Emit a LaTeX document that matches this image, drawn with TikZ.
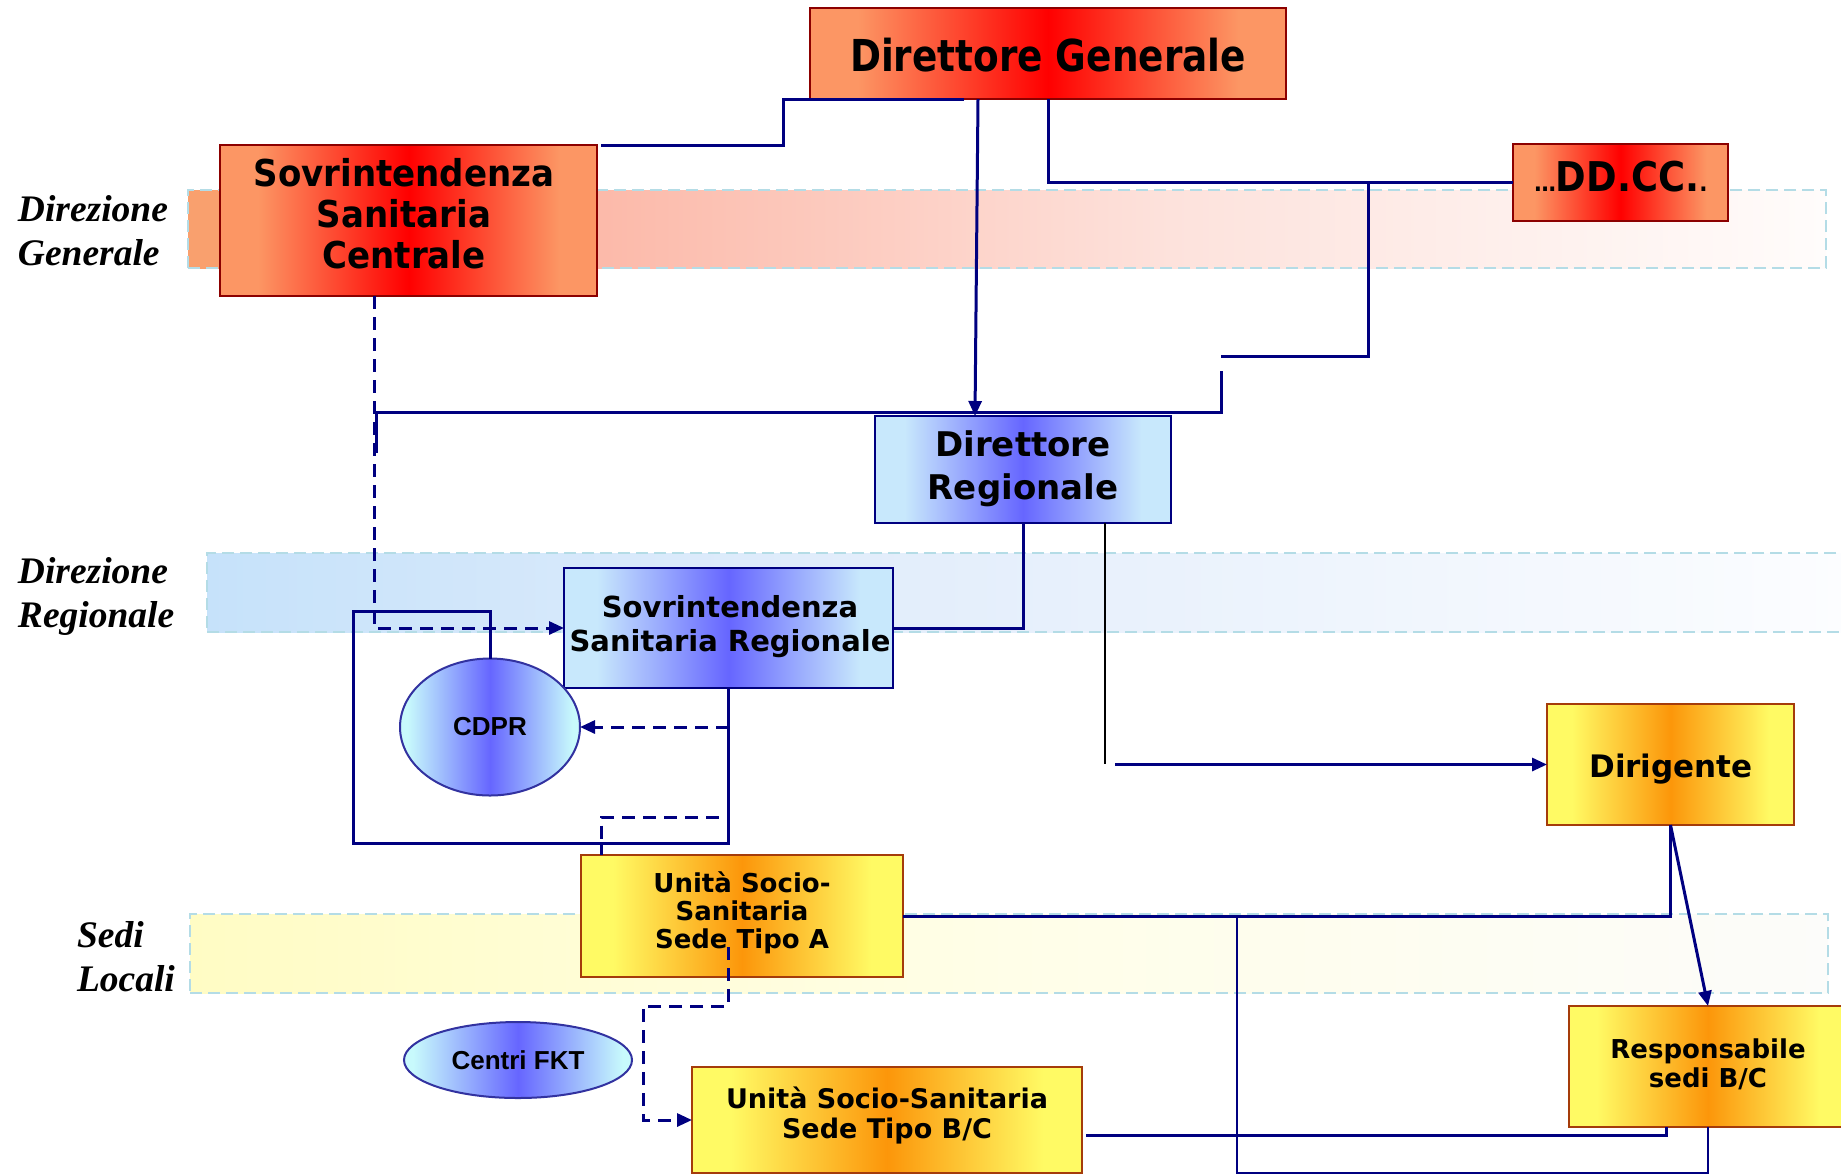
\documentclass[tikz,border=0pt]{standalone}
\usepackage{fontspec}
\usepackage{graphicx}
\usetikzlibrary{fit,calc,arrows.meta,shapes.geometric}

\newfontfamily\dvsans{DejaVu Sans}
\newfontfamily\lsans{Liberation Sans}
\newfontfamily\lserif{Liberation Serif}

% palette
\definecolor{navy}{RGB}{0,0,128}
\definecolor{dgedge}{RGB}{252,150,100}
\definecolor{dgmid}{RGB}{255,0,0}
\definecolor{dgborder}{RGB}{140,0,0}
\definecolor{blueedge}{RGB}{200,232,252}
\definecolor{bluemid}{RGB}{102,102,255}
\definecolor{ovaledge}{RGB}{200,250,252}
\definecolor{ovalborder}{RGB}{50,50,160}
\definecolor{yeledge}{RGB}{255,250,100}
\definecolor{yelmid}{RGB}{252,150,10}
\definecolor{yelborder}{RGB}{165,60,10}
\definecolor{laneborder}{RGB}{180,220,230}
\definecolor{laneAa}{RGB}{249,160,110}
\definecolor{laneAb}{RGB}{252,182,165}
\definecolor{laneAc}{RGB}{253,226,220}
\definecolor{laneAd}{RGB}{255,252,251}
\definecolor{laneBa}{RGB}{198,226,250}
\definecolor{laneBb}{RGB}{226,237,251}
\definecolor{laneBc}{RGB}{252,253,255}
\definecolor{laneCa}{RGB}{255,252,196}
\definecolor{laneCb}{RGB}{255,254,232}
\definecolor{laneCc}{RGB}{252,252,250}

% box fills: light edges, strong centre
\pgfdeclarehorizontalshading{redshade}{100bp}{color(0bp)=(dgedge); color(30bp)=(dgedge); color(50bp)=(dgmid); color(70bp)=(dgedge); color(100bp)=(dgedge)}
\pgfdeclarehorizontalshading{blueshade}{100bp}{color(0bp)=(blueedge); color(30bp)=(blueedge); color(50bp)=(bluemid); color(70bp)=(blueedge); color(100bp)=(blueedge)}
\pgfdeclarehorizontalshading{ovalshade}{100bp}{color(0bp)=(ovaledge); color(27bp)=(ovaledge); color(50bp)=(bluemid); color(73bp)=(ovaledge); color(100bp)=(ovaledge)}
\pgfdeclarehorizontalshading{yelshade}{100bp}{color(0bp)=(yeledge); color(30bp)=(yeledge); color(50bp)=(yelmid); color(70bp)=(yeledge); color(100bp)=(yeledge)}
% lane fills fading to white
\pgfdeclarehorizontalshading{laneA}{100bp}{color(0bp)=(laneAa); color(25bp)=(laneAa); color(26.5bp)=(laneAa); color(36bp)=(laneAb); color(55bp)=(laneAc); color(75bp)=(laneAd); color(100bp)=(laneAd)}
\pgfdeclarehorizontalshading{laneB}{100bp}{color(0bp)=(laneBa); color(25bp)=(laneBa); color(45bp)=(laneBb); color(75bp)=(laneBc); color(100bp)=(laneBc)}
\pgfdeclarehorizontalshading{laneC}{100bp}{color(0bp)=(laneCa); color(25bp)=(laneCa); color(50bp)=(laneCb); color(75bp)=(laneCc); color(100bp)=(laneCc)}

% multi-line text, squeezed horizontally by #1
\newcommand{\mlines}[3]{\scalebox{#1}[1]{\begin{tabular}[t]{@{}#2@{}}#3\end{tabular}}}

\tikzset{
  lane/.style={rectangle, inner sep=0pt, outer sep=0pt, draw=laneborder, line width=0.9pt, dash pattern=on 6pt off 3pt, shade},
  box/.style={rectangle, inner sep=0pt, outer sep=0pt, line width=1.3pt, shade},
  redbox/.style={box, draw=dgborder, shading=redshade},
  bluebox/.style={box, draw=navy, shading=blueshade},
  yelbox/.style={box, draw=yelborder, shading=yelshade},
  oval/.style={ellipse, inner sep=0pt, outer sep=0pt, line width=1pt, draw=ovalborder, shade, shading=ovalshade,
               font=\lsans\bfseries\fontsize{13}{15}\selectfont},
  conn/.style={draw=navy, line width=1.5pt},
  thinconn/.style={draw=navy, line width=1pt},
  dconn/.style={draw=navy, line width=1.5pt, dash pattern=on 6.5pt off 4pt},
  tip/.style={-{Triangle[length=7.5pt,width=6.5pt]}},
  txt/.style={inner sep=0pt, outer sep=0pt, anchor=base},
  lab/.style={inner sep=0pt, outer sep=0pt, anchor=base west, font=\lserif\bfseries\itshape\fontsize{18.75}{22}\selectfont}
}

\begin{document}
\begin{tikzpicture}[x=0.5pt, y=-0.5pt]
\useasboundingbox (0,0) rectangle (1841,1175);
\clip (0,0) rectangle (1841,1175);
\fill[white] (0,0) rectangle (1841,1175);

% level lanes
\node[lane, shading=laneA, fit={(188,190) (1826,268)}] (laneDG) {};
\node[lane, shading=laneB, fit={(207,553) (1846,632)}] (laneDR) {};
\node[lane, shading=laneC, fit={(190,914) (1828,993)}] (laneSL) {};

% lane titles
\node[lab] (labDG) at (18,221) {\begin{tabular}[t]{@{}l@{}}Direzione\\Generale\end{tabular}};
\node[lab] (labDR) at (18,583) {\begin{tabular}[t]{@{}l@{}}Direzione\\Regionale\end{tabular}};
\node[lab] (labSL) at (77,947) {\begin{tabular}[t]{@{}l@{}}Sedi\\Locali\end{tabular}};

% boxes
\node[redbox, fit={(810,8) (1286,99)}] (dg) {};
\node[redbox, fit={(220,145) (597,296)}] (ssc) {};
\node[redbox, fit={(1513,144) (1728,221)}] (ddcc) {};
\node[bluebox, fit={(875,416) (1171,523)}] (dr) {};
\node[bluebox, fit={(564,568) (893,688)}] (ssr) {};
\node[yelbox, fit={(581,855) (903,977)}] (ussa) {};
\node[yelbox, fit={(692,1067) (1082,1173)}] (ussbc) {};
\node[yelbox, fit={(1547,704) (1794,825)}] (dir) {};
\node[yelbox, fit={(1569,1006) (1847,1127)}] (resp) {};
\node[oval, minimum width=90pt, minimum height=68.5pt] (cdpr) at (490,727) {CDPR};
\node[oval, minimum width=114pt, minimum height=38pt] (fkt) at (518,1060) {Centri FKT};

% box texts
\node[txt, font=\dvsans\bfseries\fontsize{22}{26}\selectfont] (dg-t) at (1048,71) {\scalebox{0.85}[1]{Direttore Generale}};
\node[txt, font=\dvsans\bfseries\fontsize{18.5}{20.5}\selectfont] (ssc-t) at (404,186) {\mlines{0.92}{c}{Sovrintendenza\\Sanitaria\\Centrale}};
\node[txt, font=\dvsans\bfseries\fontsize{20.5}{24}\selectfont] (ddcc-t) at (1621,191) {\scalebox{0.9}[1]{{\fontsize{12}{14}\selectfont …}DD.CC.{\fontsize{12}{14}\selectfont .}}};
\node[txt, font=\dvsans\bfseries\fontsize{17}{21.5}\selectfont] (dr-t) at (1023,456) {\mlines{1}{c}{Direttore\\Regionale}};
\node[txt, font=\dvsans\bfseries\fontsize{14.5}{17}\selectfont] (ssr-t) at (730,617) {\mlines{1}{c}{Sovrintendenza\\Sanitaria Regionale}};
\node[txt, font=\dvsans\bfseries\fontsize{13}{13.75}\selectfont] (ussa-t) at (742,892) {\mlines{1}{c}{Unità Socio-\\Sanitaria\\Sede Tipo A}};
\node[txt, font=\dvsans\bfseries\fontsize{13.5}{15}\selectfont] (ussbc-t) at (887,1108) {\mlines{1}{c}{Unità Socio-Sanitaria\\Sede Tipo B/C}};
\node[txt, font=\dvsans\bfseries\fontsize{15.5}{18}\selectfont] (dir-t) at (1671,777) {Dirigente};
\node[txt, font=\dvsans\bfseries\fontsize{13}{14.5}\selectfont] (resp-t) at (1708,1058) {\mlines{1}{c}{Responsabile\\sedi B/C}};

% central direction links
\draw[conn] ($(dg.south)+(-84,0)$) -| (783,145) -- ($(ssc.north east)+(4,0)$);
\draw[conn, tip] ($(dg.south)+(-70,0)$) -- ($(dr.north)+(-48,0)$);
\draw[conn] (dg.south) |- (ddcc.west);
\coordinate (hopA) at (1221,356);
\coordinate (hopB) at (1221,371);
\coordinate (sscdrop) at (376,453);
\draw[conn] ($(dg.south |- ddcc.west)+(320,0)$) -- (1368,356) -- (hopA);
\draw[conn] (hopB) -- (1221,412) -- (376,412) -- (sscdrop);

% regional links
\draw[conn] (dr.south) |- (ssr.east);
\coordinate (drEnd) at (1105,764);
\coordinate (dirIn) at (1115,764.5);
\draw[line width=1pt, black] ($(dr.south)+(82,0)$) -- (drEnd);
\draw[conn, tip] (dirIn) -- (dir.west);
\draw[dconn, tip] ($(ssc.south)+(-34.5,0)$) |- (ssr.west);
\draw[conn] (ssr.south) |- (353,843) |- (490,611) -- (cdpr.north);
\draw[conn] (601,843) -- ($(ussa.north)+(-141,0)$);
\draw[dconn, tip] ($(ssr.south)+(0,39)$) -- (cdpr.east);
\draw[dconn] ($(ssr.south)+(-10,129)$) -- (601,817) -- ($(ussa.north)+(-141,0)$);

% local links
\draw[dconn, tip] ($(ussa.south)+(-14,-30)$) |- (643,1006) |- (ussbc.west);
\draw[conn] (dir.south) |- (ussa.east);
\draw[thinconn] (1237,916) |- ($(resp.south)+(0,46)$) -- (resp.south);
\draw[conn] ($(ussbc.east)+(4,15)$) -| ($(resp.south)+(-42,0)$);
\draw[conn, tip] (dir.south) -- (resp.north);
\end{tikzpicture}
\end{document}
